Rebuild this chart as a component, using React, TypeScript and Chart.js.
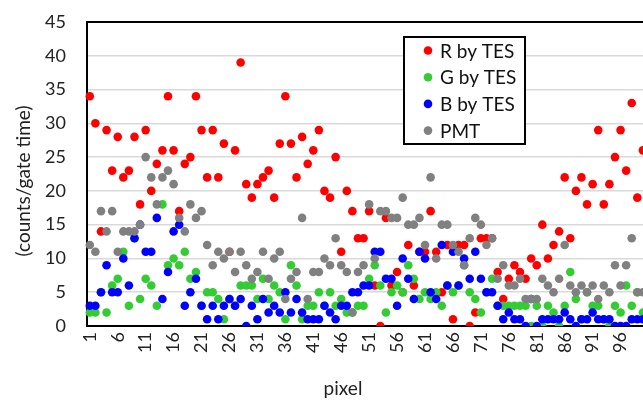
import React, { useEffect, useRef } from 'react';
import { Chart, registerables } from 'chart.js';

Chart.register(...registerables);

const pixels = [
  1, 2, 3, 4, 5, 6, 7, 8, 9, 10, 11, 12, 13, 14, 15, 16, 17, 18, 19, 20,
  21, 22, 23, 24, 25, 26, 27, 28, 29, 30, 31, 32, 33, 34, 35, 36, 37, 38, 39, 40,
  41, 42, 43, 44, 45, 46, 47, 48, 49, 50, 51, 52, 53, 54, 55, 56, 57, 58, 59, 60,
  61, 62, 63, 64, 65, 66, 67, 68, 69, 70, 71, 72, 73, 74, 75, 76, 77, 78, 79, 80,
  81, 82, 83, 84, 85, 86, 87, 88, 89, 90, 91, 92, 93, 94, 95, 96, 97, 98, 99, 100,
];

const xTickLabels = ['1', '6', '11', '16', '21', '26', '31', '36', '41', '46', '51', '56', '61', '66', '71', '76', '81', '86', '91', '96'];

const rByTES = [
  34, 30, 14, 29, 23, 28, 22, 23, 28, 18,
  29, 20, 24, 26, 34, 26, 17, 24, 25, 34,
  29, 22, 29, 22, 27, 11, 26, 39, 21, 19,
  21, 22, 23, 19, 27, 34, 27, 22, 28, 24,
  26, 29, 20, 19, 25, 11, 20, 17, 13, 13,
  17, 6, 0, 16, 6, 8, 5, 12, 6, 11,
  11, 17, 11, 5, 12, 1, 12, 12, 0, 2,
  13, 13, 13, 8, 4, 7, 9, 8, 7, 10,
  9, 15, 10, 12, 14, 22, 13, 20, 22, 18,
  21, 29, 18, 21, 25, 29, 23, 33, 19, 26,
];

const gByTES = [
  2, 2, 5, 2, 6, 7, 11, 3, 13, 4,
  7, 6, 3, 18, 9, 10, 9, 11, 7, 8,
  3, 5, 5, 4, 1, 4, 3, 6, 6, 6,
  4, 7, 4, 6, 5, 1, 9, 6, 1, 3,
  3, 5, 3, 5, 3, 4, 2, 2, 3, 3,
  7, 9, 6, 2, 5, 6, 5, 9, 7, 4,
  5, 4, 5, 3, 6, 5, 6, 9, 5, 4,
  2, 5, 7, 3, 3, 3, 3, 3, 3, 0,
  3, 0, 3, 2, 0, 3, 8, 4, 1, 5,
  3, 3, 1, 0, 3, 2, 6, 3, 5, 2,
];

const bByTES = [
  3, 3, 5, 9, 5, 5, 10, 6, 13, 15,
  11, 11, 16, 4, 8, 14, 15, 3, 5, 7,
  3, 1, 3, 1, 3, 4, 3, 4, 0, 3,
  1, 4, 2, 3, 2, 5, 2, 4, 2, 1,
  1, 1, 3, 2, 1, 3, 3, 5, 5, 6,
  6, 11, 11, 7, 7, 3, 10, 7, 4, 11,
  10, 5, 4, 12, 6, 11, 6, 10, 7, 11,
  7, 5, 5, 3, 1, 2, 1, 1, 0, 4,
  0, 1, 1, 1, 1, 2, 1, 0, 1, 1,
  2, 1, 1, 1, 0, 0, 0, 1, 1, 1,
];

const pmt = [
  12, 11, 17, 14, 17, 11, 14, 14, 14, 15,
  25, 22, 18, 22, 23, 21, 16, 14, 18, 16,
  17, 12, 9, 11, 10, 11, 8, 11, 9, 7,
  8, 11, 7, 10, 11, 4, 7, 8, 16, 4,
  8, 8, 10, 9, 13, 9, 8, 2, 8, 9,
  18, 10, 17, 17, 16, 16, 19, 15, 15, 16,
  12, 22, 10, 15, 15, 12, 11, 9, 13, 16,
  15, 12, 13, 7, 9, 6, 6, 7, 4, 4,
  4, 7, 6, 5, 7, 12, 6, 5, 6, 5,
  6, 4, 6, 5, 9, 6, 9, 13, 5, 5,
];

const seriesNames = ['R by TES', 'G by TES', 'B by TES', 'PMT'];
const seriesColors = ['#ff0000', '#33cc33', '#0000ff', '#808080'];
const yTitle = '(counts/gate time)';
const xTitle = 'pixel';

const FONT = 'Lato';

const boxLegend = {
  id: 'boxLegend',
  afterDatasetsDraw(chart: any) {
    const { ctx, chartArea } = chart;
    const x0 = chartArea.left + 317;
    const y0 = chartArea.top + 15;
    const w = 121;
    const h = 107;
    ctx.save();
    ctx.fillStyle = '#ffffff';
    ctx.fillRect(x0, y0, w, h);
    ctx.lineWidth = 2;
    ctx.strokeStyle = '#000000';
    ctx.strokeRect(x0, y0, w, h);
    ctx.font = `19px ${FONT}`;
    ctx.textBaseline = 'middle';
    ctx.textAlign = 'left';
    chart.data.datasets.forEach((ds: any, i: number) => {
      const cy = y0 + 13.5 + i * 26.7;
      ctx.beginPath();
      ctx.arc(x0 + 24, cy, 4.3, 0, Math.PI * 2);
      ctx.fillStyle = ds.backgroundColor;
      ctx.fill();
      ctx.fillStyle = '#111111';
      ctx.fillText(ds.label, x0 + 36, cy + 1);
    });
    ctx.restore();
  },
};

const axisTitles = {
  id: 'axisTitles',
  afterDraw(chart: any) {
    const { ctx, chartArea } = chart;
    ctx.save();
    ctx.fillStyle = '#222222';
    ctx.font = `19px ${FONT}`;
    ctx.textAlign = 'center';
    ctx.textBaseline = 'middle';
    ctx.translate(chartArea.left - 63, chartArea.top + 159);
    ctx.rotate(-Math.PI / 2);
    ctx.fillText(yTitle, 0, 0);
    ctx.restore();
    ctx.save();
    ctx.fillStyle = '#222222';
    ctx.font = `19px ${FONT}`;
    ctx.textAlign = 'center';
    ctx.textBaseline = 'middle';
    ctx.fillText(xTitle, chartArea.left + 256, chartArea.bottom + 63);
    ctx.restore();
  },
};

export default function App() {
  const canvasRef = useRef<HTMLCanvasElement | null>(null);

  useEffect(() => {
    if (!canvasRef.current) return;
    const all = [rByTES, gByTES, bByTES, pmt];
    const chart = new Chart(canvasRef.current, {
      type: 'line',
      data: {
        labels: pixels.map(String),
        datasets: all.map((vals, i) => ({
          label: seriesNames[i],
          data: vals,
          showLine: false,
          backgroundColor: seriesColors[i],
          borderColor: seriesColors[i],
          pointBackgroundColor: seriesColors[i],
          pointBorderWidth: 0,
          pointRadius: 4.3,
          pointHoverRadius: 4.3,
          order: 4 - i,
        })),
      },
      options: {
        responsive: false,
        animation: false,
        devicePixelRatio: 1,
        layout: { padding: { top: 22, left: 0, right: 0, bottom: 0 } },
        plugins: {
          legend: { display: false },
          tooltip: { enabled: false },
        },
        scales: {
          x: {
            type: 'category',
            offset: true,
            grid: { display: false, drawTicks: false, tickLength: 0 },
            border: { display: true, color: '#000000', width: 2 },
            ticks: {
              autoSkip: false,
              minRotation: 90,
              maxRotation: 90,
              padding: 6,
              color: '#222222',
              font: { family: FONT, size: 18 },
              callback: function (this: any, value: any) {
                const lab = this.getLabelForValue(value);
                return xTickLabels.includes(lab) ? lab : '';
              },
            },
            afterFit: (scale: any) => {
              scale.height = 78;
              scale.paddingLeft = 0;
              scale.paddingRight = 0;
            },
          },
          y: {
            min: 0,
            max: 45,
            grid: {
              drawTicks: false,
              tickLength: 0,
              color: (c: any) => (c.tick && c.tick.value === 45 ? '#000000' : '#d9d9d9'),
              lineWidth: (c: any) => (c.tick && c.tick.value === 45 ? 2 : 1.5),
            },
            border: { display: true, color: '#000000', width: 2 },
            ticks: {
              stepSize: 5,
              padding: 21,
              color: '#222222',
              font: { family: FONT, size: 18 },
            },
            afterFit: (scale: any) => {
              scale.width = 87;
              scale.paddingTop = 0;
              scale.paddingBottom = 0;
            },
          },
        },
      },
      plugins: [boxLegend, axisTitles],
    });
    return () => chart.destroy();
  }, []);

  return (
    <div style={{ position: 'fixed', left: 0, top: 0, width: 643, height: 404, overflow: 'hidden', background: '#fff' }}>
      <canvas ref={canvasRef} width={650} height={404} style={{ display: 'block' }} />
    </div>
  );
}
